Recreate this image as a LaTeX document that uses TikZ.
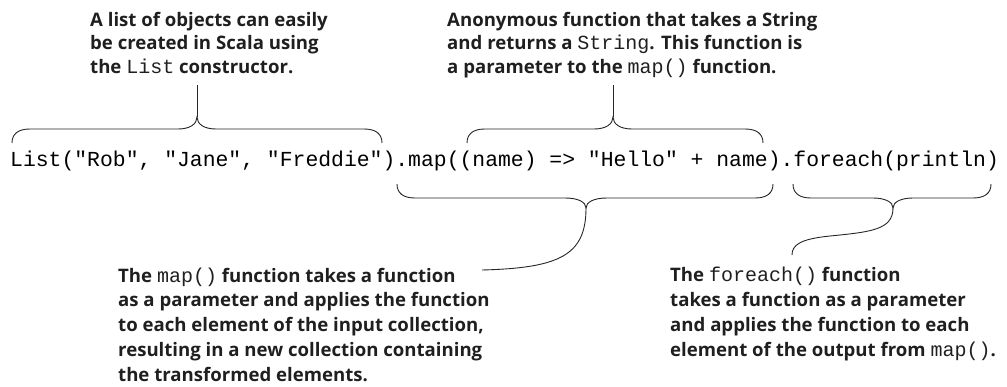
\documentclass[tikz,border=0pt]{standalone}
\usepackage{fontspec}
\setmainfont{Lato}
\newfontfamily\labfont{Open Sans}[UprightFont={* Bold}]
\newfontfamily\codefont{Liberation Mono}
\newcommand{\cd}[1]{{\codefont\mdseries\fontsize{20}{24}\selectfont #1}}
\tikzset{
  lab/.style={anchor=base west, inner sep=0pt, align=left,
    font=\labfont\fontsize{18.6}{23.3}\selectfont, text=black!88},
  lab5/.style={lab, font=\labfont\fontsize{18.6}{24.7}\selectfont},
  brace/.style={line width=0.9pt, black!85},
}
\begin{document}
\begin{tikzpicture}[x=1pt,y=-1pt]
\useasboundingbox (0,0) rectangle (1007,386);
\node[anchor=base west, inner sep=0pt, font=\codefont\fontsize{21.4}{24}\selectfont] (code) at (10,166)
  {List("Rob", "Jane", "Freddie").map((name) => "Hello" + name).foreach(println)};
\node[lab] (t1) at (90,73) {A list of objects can easily\\be created in Scala using\\the \cd{List} constructor.};
\node[lab] (t2) at (447,73) {Anonymous function that takes a String\\and returns a \cd{String}. This function is\\a parameter to the \cd{map()} function.};
\node[lab5] (t3) at (118,381) {The \cd{map()} function takes a function\\as a parameter and applies the function\\to each element of the input collection,\\resulting in a new collection containing\\the transformed elements.};
\node[lab5] (t4) at (670,356) {The \cd{foreach()} function\\takes a function as a parameter\\and applies the function to each\\element of the output from \cd{map()}.};
% top brace 1
\coordinate (b1) at (197,117);
\coordinate (b1t) at (197,85);
\draw[brace] (12,143) .. controls (12,134) and (18,129) .. (30,129) -- (178,129)
  .. controls (190,129) and (197,124) .. (b1) .. controls (197,124) and (204,129) .. (216,129)
  -- (364,129) .. controls (376,129) and (382,134) .. (382,143);
\draw[brace] (b1) -- (b1t);
% top brace 2
\coordinate (b2) at (613,117);
\coordinate (b2t) at (613,85);
\draw[brace] (467,143) .. controls (467,134) and (473,129) .. (485,129) -- (594,129)
  .. controls (606,129) and (613,124) .. (b2) .. controls (613,124) and (620,129) .. (632,129)
  -- (745,129) .. controls (757,129) and (763,134) .. (763,143);
\draw[brace] (b2) -- (b2t);
% bottom brace 3
\coordinate (b3) at (586,208);
\coordinate (b3e) at (482,270);
\draw[brace] (397,184) .. controls (397,193) and (403,198) .. (415,198) -- (565,198)
  .. controls (578,198) and (586,202) .. (b3) .. controls (586,202) and (594,198) .. (607,198)
  -- (755,198) .. controls (767,198) and (773,193) .. (773,184);
\draw[brace] (b3) .. controls (586,255) and (560,268) .. (b3e);
% bottom brace 4
\coordinate (b4) at (893,208);
\coordinate (b4e) at (792,255);
\draw[brace] (793,184) .. controls (793,193) and (799,198) .. (811,198) -- (873,198)
  .. controls (885,198) and (893,202) .. (b4) .. controls (893,202) and (901,198) .. (913,198)
  -- (973,198) .. controls (985,198) and (991,193) .. (991,184);
\draw[brace] (b4) .. controls (893,230) and (870,232) .. (830,236)
  .. controls (800,239) and (792,245) .. (b4e);
\end{tikzpicture}
\end{document}
